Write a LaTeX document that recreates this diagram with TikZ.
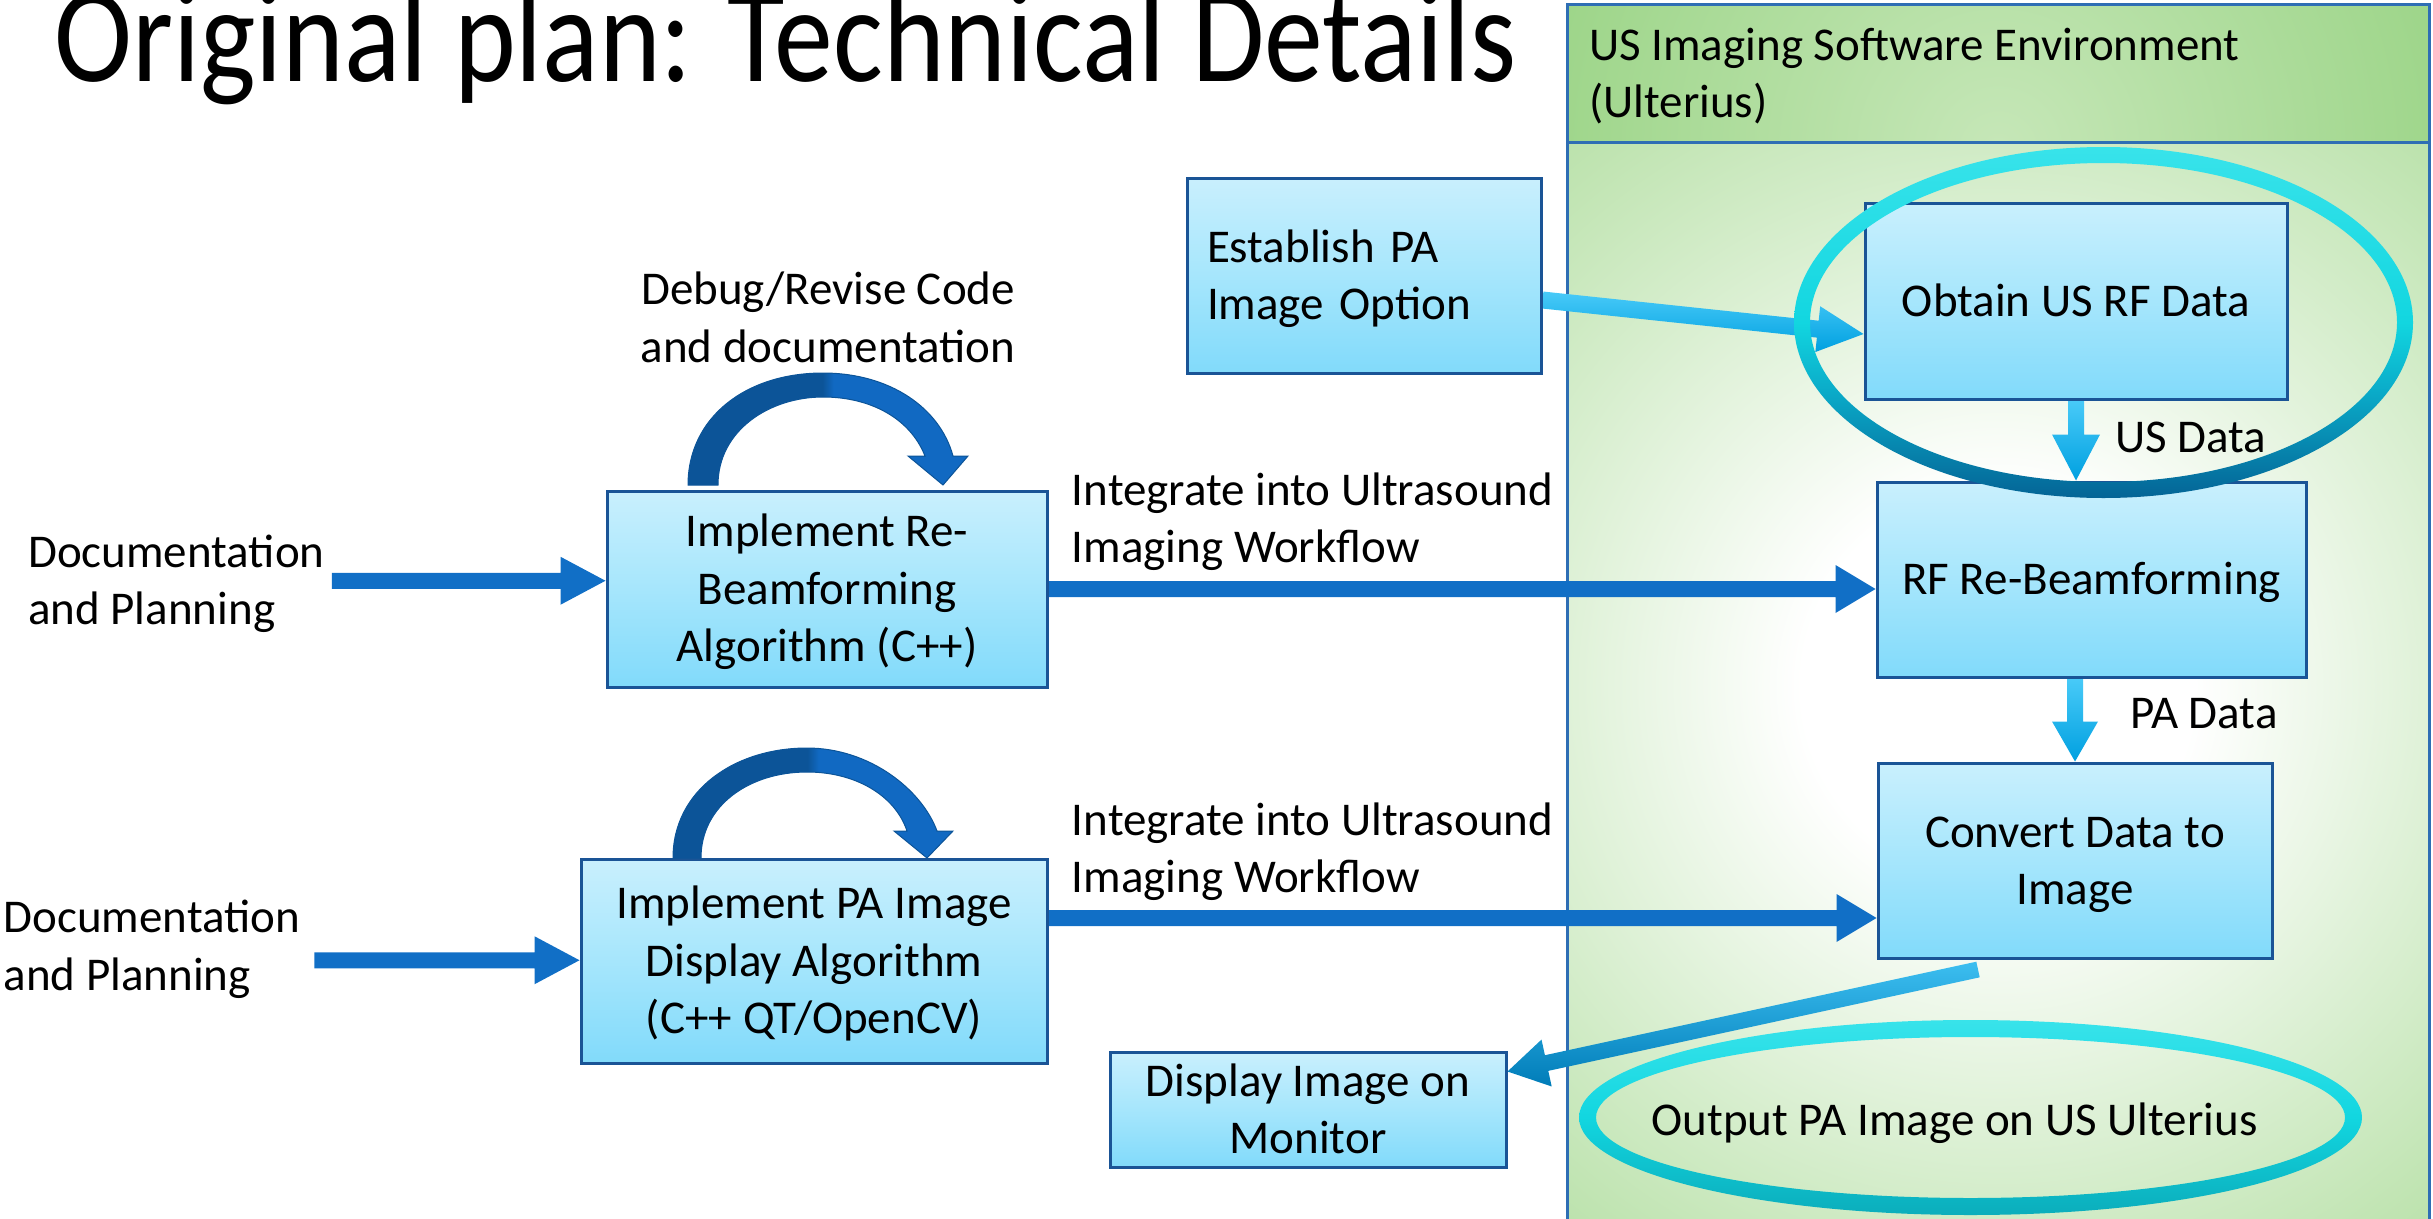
\documentclass[tikz,border=0pt]{standalone}
\usepackage{fontspec}
\setmainfont{Carlito}
\usetikzlibrary{calc}

% palette
\definecolor{panelline}{RGB}{46,110,180}
\definecolor{glowmid}{RGB}{194,229,180}
\definecolor{glowedge}{RGB}{124,199,98}
\definecolor{headlight}{RGB}{198,231,184}
\definecolor{headdark}{RGB}{118,196,92}
\definecolor{boxline}{RGB}{26,84,150}
\definecolor{boxtop}{RGB}{236,249,255}
\definecolor{boxmid}{RGB}{166,230,252}
\definecolor{boxlow}{RGB}{122,216,250}
\definecolor{boxbot}{RGB}{158,227,251}
\definecolor{flowblue}{RGB}{17,111,198}
\definecolor{skytop}{RGB}{72,202,248}
\definecolor{skybot}{RGB}{0,160,224}
\definecolor{exittop}{RGB}{60,190,240}
\definecolor{exitbot}{RGB}{0,124,184}
\definecolor{loopdark}{RGB}{12,84,152}
\definecolor{looplight}{RGB}{17,105,194}
\definecolor{ringtop}{RGB}{94,240,245}
\definecolor{ringmid}{RGB}{18,214,224}
\definecolor{ringcyan}{RGB}{10,170,200}
\definecolor{ringteal}{RGB}{4,100,150}
\definecolor{ringdeep}{RGB}{1,50,110}
\definecolor{ringnavy}{RGB}{0,30,94}
\definecolor{ringsea}{RGB}{8,136,146}
\definecolor{ringseab}{RGB}{12,178,192}

% shadings
\pgfdeclareverticalshading{boxfill}{100bp}{color(0bp)=(boxbot); color(20bp)=(boxlow); color(50bp)=(boxmid); color(100bp)=(boxtop)}
\pgfdeclareverticalshading{bigring}{100bp}{color(0bp)=(ringnavy); color(12bp)=(ringdeep); color(25bp)=(ringteal); color(40bp)=(ringcyan); color(50bp)=(ringmid); color(100bp)=(ringtop)}
\pgfdeclareverticalshading{smallring}{100bp}{color(0bp)=(ringsea); color(28bp)=(ringseab); color(50bp)=(ringmid); color(100bp)=(ringtop)}
\pgfdeclarehorizontalshading{loopfill}{100bp}{color(0bp)=(loopdark); color(49bp)=(loopdark); color(51bp)=(looplight); color(100bp)=(looplight)}
\pgfdeclareradialshading{bodyglow}{\pgfpoint{0bp}{0bp}}{color(0bp)=(white); color(7bp)=(white); color(23bp)=(glowmid); color(42bp)=(glowedge); color(50bp)=(glowedge)}
\pgfdeclareradialshading{headglow}{\pgfpoint{0bp}{0bp}}{color(0bp)=(headlight); color(50bp)=(headdark)}

% one line of text at a fixed height and depth
\newcommand\lnstrut{\rule[-13.5pt]{0pt}{57.5pt}}

% block arrow: #1 fill/shade options, #2 tail, #3 tip, #4 half shaft, #5 half head, #6 head length
\newcommand\blockarrow[6]{%
  \coordinate (ba-h) at ($(#3)!#6!(#2)$);
  \path[#1] ($(#2)!#4!90:(#3)$) -- ($(ba-h)!#4!90:(#3)$) -- ($(ba-h)!#5!90:(#3)$)
    -- (#3) -- ($(ba-h)!#5!-90:(#3)$) -- ($(ba-h)!#4!-90:(#3)$) -- ($(#2)!#4!-90:(#3)$) -- cycle;
}

\pgfdeclarelayer{panel}
\pgfdeclarelayer{links}
\pgfsetlayers{panel,links,main}

\tikzset{
  txt/.style={font=\fontsize{47}{57.5}\selectfont, inner sep=0pt, text=black},
  stepbox/.style={txt, rectangle, draw=boxline, line width=3pt, shade, shading=boxfill, align=center},
}

\begin{document}
\begin{tikzpicture}[x=1pt,y=-1pt]
\useasboundingbox (0,0) rectangle (2433,1218);
\clip (0,0) rectangle (2433,1218);

% title, tall and narrow, its tops running off the page
\node[font=\fontsize{136}{160}\selectfont, anchor=base west, inner sep=0pt] (title) at (54,81) {\scalebox{0.865}[1]{Original plan: Technical Details}};

% process boxes
\node[stepbox, text width=314pt, align=left, inner xsep=20pt, minimum height=195pt] (est) at (1364,275.5) {\lnstrut Establish PA\\\lnstrut Image Option};
\node[stepbox, minimum width=422pt, minimum height=196pt] (obtain) at (2076,301) {\lnstrut Obtain US RF Data};
\node[stepbox, minimum width=429pt, minimum height=195pt] (rf) at (2091.5,579.5) {\lnstrut RF Re-Beamforming};
\node[stepbox, minimum width=394pt, minimum height=195pt] (convert) at (2075,860.5) {\lnstrut Convert Data to\\\lnstrut Image};
\node[stepbox, minimum width=396pt, minimum height=111pt] (display) at (1308,1109.5) {\lnstrut Display Image on\\\lnstrut Monitor};
\node[stepbox, minimum width=440pt, minimum height=196pt] (impl1) at (827,589) {\lnstrut Implement Re-\\\lnstrut Beamforming\\\lnstrut Algorithm (C++)};
\node[stepbox, minimum width=466pt, minimum height=204pt] (impl2) at (814,961) {\lnstrut Implement PA Image\\\lnstrut Display Algorithm\\\lnstrut (C++ QT/OpenCV)};

% free labels
\node[txt, anchor=west, align=left] (doc1) at (28,580.75) {\lnstrut Documentation\\\lnstrut and Planning};
\node[txt, anchor=west, align=left] (doc2) at (3.5,946.25) {\lnstrut Documentation\\\lnstrut and Planning};
\node[txt, align=center] (debug) at (828,318) {\lnstrut Debug/Revise Code\\\lnstrut and documentation};
\node[txt, anchor=west, align=left] (integ1) at (1071.7,518.75) {\lnstrut Integrate into Ultrasound\\\lnstrut Imaging Workflow};
\node[txt, anchor=west, align=left] (integ2) at (1071.7,848.75) {\lnstrut Integrate into Ultrasound\\\lnstrut Imaging Workflow};
\node[txt, anchor=base west] (usdata) at (2115,452) {US Data};
\node[txt, anchor=base west] (padata) at (2130,728) {PA Data};
\node[txt, anchor=base] (outlbl) at (1954.5,1135) {Output PA Image on US Ulterius};

% software environment panel
\begin{pgfonlayer}{panel}
  \fill[glowedge] (1567,142) rectangle (2429,1240);
  \begin{scope}
    \clip (1567,142) rectangle (2429,1240);
    \shade[shading=bodyglow] (1298,-14) rectangle (2698,1386);
  \end{scope}
  \begin{scope}
    \clip (1567,4) rectangle (2429,142);
    \shade[shading=headglow] (1548,-300) rectangle (2448,600);
  \end{scope}
  \draw[panelline, line width=3pt] (1567,1240) |- (2429,4) -- (2429,1240);
  \draw[panelline, line width=3pt] (1567,142) -- (2429,142);
\end{pgfonlayer}
\node[txt, anchor=west, align=left] (envtitle) at (1589,73.75) {\lnstrut US Imaging Software Environment\\\lnstrut (Ulterius)};

% connectors
\begin{pgfonlayer}{links}
  \coordinate (a1t) at ($(doc1.east)+(7,0)$);
  \coordinate (a1h) at (a1t -| impl1.west);
  \blockarrow{fill=flowblue}{a1t}{a1h}{8pt}{24pt}{45pt}
  \coordinate (a2t) at ($(doc2.east)+(14,14)$);
  \coordinate (a2h) at (a2t -| impl2.west);
  \blockarrow{fill=flowblue}{a2t}{a2h}{8pt}{24pt}{45pt}
  \coordinate (a3t) at (impl1.east);
  \coordinate (a3h) at (a3t -| rf.west);
  \blockarrow{fill=flowblue}{a3t}{a3h}{8pt}{24pt}{40pt}
  \coordinate (a4t) at ($(impl2.east)+(0,-43)$);
  \coordinate (a4h) at (a4t -| convert.west);
  \blockarrow{fill=flowblue}{a4t}{a4h}{8pt}{24pt}{40pt}
  \coordinate (a5t) at ($(est.east)+(0,24.5)$);
  \coordinate (a5h) at ($(obtain.west)+(0,33)$);
  \blockarrow{top color=skytop, bottom color=skybot}{a5t}{a5h}{8.5pt}{23pt}{46pt}
  \coordinate (a6t) at (obtain.south);
  \coordinate (a6h) at (obtain.south |- rf.north);
  \blockarrow{top color=skytop, bottom color=skybot}{a6t}{a6h}{8pt}{24pt}{46pt}
  \coordinate (a7t) at (rf.south -| convert.north);
  \coordinate (a7h) at (convert.north);
  \blockarrow{top color=skytop, bottom color=skybot}{a7t}{a7h}{8pt}{23pt}{40pt}
  \coordinate (a8t) at ($(convert.south)+(-97,10)$);
  \coordinate (a8h) at ($(display.north east)+(0,21)$);
  \blockarrow{top color=exittop, bottom color=exitbot}{a8t}{a8h}{8pt}{24pt}{40pt}
\end{pgfonlayer}

% revision loops
\shade[shading=loopfill, draw=loopdark, line width=1pt]
  (688,485) .. controls (688,418) and (745,373) .. (823,373)
  .. controls (890,373) and (940,408) .. (953,456)
  -- (968,456) -- (943,485) -- (908,456) -- (925,456)
  .. controls (910,418) and (870,397) .. (823,397)
  .. controls (770,397) and (718,430) .. (718,485) -- cycle;
\shade[shading=loopfill, draw=loopdark, line width=1pt]
  (673,858) .. controls (673,790) and (735,748) .. (807,748)
  .. controls (870,748) and (922,790) .. (937,831)
  -- (953,831) -- (927,858) -- (894,831) -- (907,831)
  .. controls (895,795) and (855,772) .. (807,772)
  .. controls (750,772) and (701,805) .. (701,858) -- cycle;

% highlight rings
\shade[shading=bigring, even odd rule]
  (2103.5,322.5) ellipse [x radius=309.5pt, y radius=175.5pt]
  (2103.5,322.5) ellipse [x radius=293.5pt, y radius=159.5pt];
\shade[shading=smallring, even odd rule]
  (1970.5,1117.5) ellipse [x radius=391.5pt, y radius=97.5pt]
  (1970.5,1117.5) ellipse [x radius=374.5pt, y radius=80.5pt];
\end{tikzpicture}
\end{document}
